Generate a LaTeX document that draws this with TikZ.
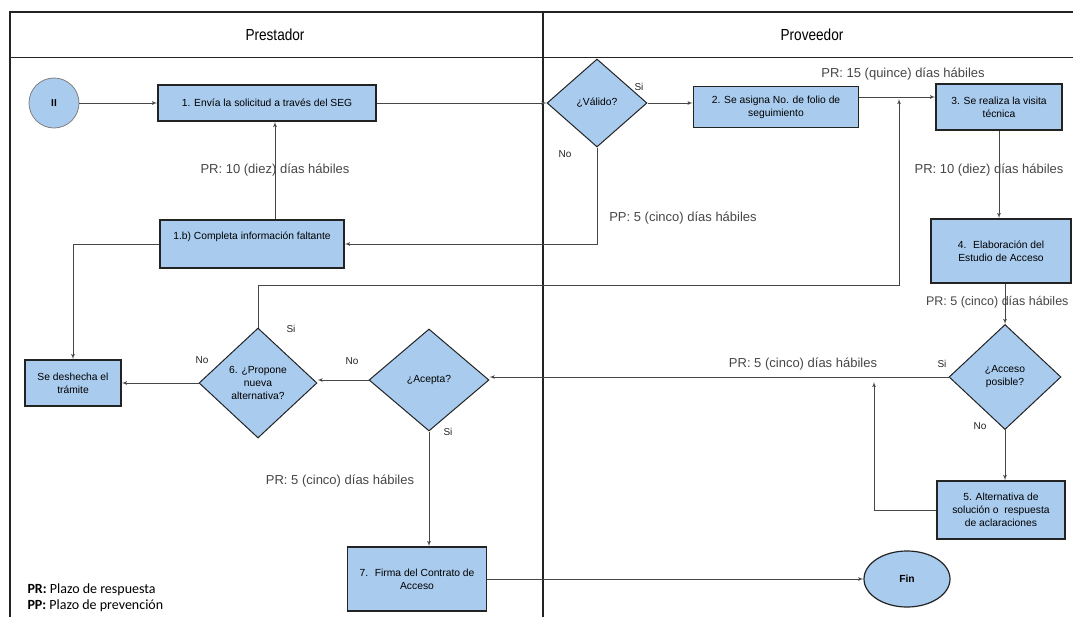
\documentclass[tikz,border=0pt]{standalone}
\usepackage{fontspec}
\setmainfont{Liberation Sans}
\newfontfamily\narrowfont[FakeStretch=0.85]{Liberation Sans}
\newfontfamily\legendfont{Carlito}
\usetikzlibrary{shapes,arrows,calc}
\definecolor{boxblue}{RGB}{169,203,238}
\definecolor{darkline}{RGB}{35,35,35}
\definecolor{linegray}{RGB}{70,70,70}
\tikzstyle{line} = [draw=linegray, line width=0.8pt, -latex']
\tikzstyle{block} = [draw=darkline, line width=1.6pt, fill=boxblue, rectangle, align=center, inner sep=2pt, font={\fontsize{10.3}{13}\selectfont}]
\tikzstyle{decision} = [draw=darkline, line width=1pt, fill=boxblue, diamond, align=center, inner sep=0pt, font={\fontsize{10.3}{13}\selectfont}]
\tikzstyle{cloud} = [draw=darkline, line width=1.2pt, fill=boxblue, ellipse, font={\bfseries\fontsize{10.3}{13}\selectfont}]
\tikzstyle{lbl} = [text=linegray, font={\fontsize{13}{15}\selectfont}]
\tikzstyle{tag} = [text=darkline, font={\fontsize{10}{12}\selectfont}]
\tikzstyle{head} = [font={\narrowfont\fontsize{16}{18}\selectfont}]

\begin{document}
\begin{tikzpicture}[x=1pt, y=-1pt]
    \useasboundingbox (0,0) rectangle (1073,616);
    \clip (0,0) rectangle (1073,616);
    % swimlanes
    \draw[darkline, line width=1.2pt] (10,12) rectangle (1100,640);
    \draw[darkline, line width=1pt] (10,57) -- (1100,57);
    \draw[darkline, line width=1.2pt] (543,12) -- (543,640);
    \node[head] (prestador) at (275,35) {Prestador};
    \node[head] (proveedor) at (812,35) {Proveedor};
    % nodes
    \node[circle, draw=gray, line width=0.8pt, fill=boxblue, minimum size=50pt, font=\bfseries] (start) at (54,103) {II};
    \node[block, minimum width=218pt, minimum height=36pt] (envia) at (267,103) {1. Envía la solicitud a través del SEG};
    \node[decision, minimum width=100pt, minimum height=88pt] (valido) at (597,103) {¿Válido?};
    \node[block, minimum width=165pt, minimum height=41pt] (folio) at (776,107) {2. Se asigna No. de folio de\\seguimiento};
    \node[block, minimum width=126pt, minimum height=46pt] (visita) at (999,107) {3. Se realiza la visita\\técnica};
    \node[block, minimum width=140pt, minimum height=64pt] (estudio) at (1001,251) {4.~ Elaboración del\\Estudio de Acceso};
    \node[decision, minimum width=112pt, minimum height=105pt] (acceso) at (1005,377) {¿Acceso\\posible?};
    \node[block, minimum width=128pt, minimum height=58pt] (alternativa) at (1001,510) {5. Alternativa de\\solución o~ respuesta\\de aclaraciones};
    \node[cloud, minimum width=86pt, minimum height=56pt] (fin) at (907,579) {Fin};
    \node[block, minimum width=139pt, minimum height=64pt] (firma) at (417,579) {7.~ Firma del Contrato de\\Acceso};
    \node[decision, minimum width=120pt, minimum height=102pt] (acepta) at (429,380) {¿Acepta?};
    \node[decision, minimum width=118pt, minimum height=110pt] (propone) at (258,383) {6. ¿Propone\\nueva\\alternativa?};
    \node[block, minimum width=96pt, minimum height=46pt] (deshecha) at (73,383) {Se deshecha el\\trámite};
    \node[block, minimum width=184pt, minimum height=48pt] (completa) at (252,244) {1.b) Completa información faltante\\[3pt]~};
    \coordinate (j23) at (859,97);
    \coordinate (j3) at (899,99);
    \coordinate (c6) at (899,285);
    \coordinate (j5) at (874,382);
    % connectors
    \path[line] (start) -- (envia);
    \path[line] (envia) -- (valido);
    \path[line] (valido.east) -- (valido.east -| folio.west);
    \path[line] (j23) -- (j23 -| visita.west);
    \path[line] (visita.south) -- (visita.south |- estudio.north);
    \path[line] (acceso.north |- estudio.south) -- (acceso.north);
    \path[line] (acceso.west) -- (acceso.west -| acepta.east);
    \path[line] (acceso.south) -- (acceso.south |- alternativa.north);
    \path[line] (alternativa.west) -| (j5);
    \path[line] (acepta.west) -- (acepta.west -| propone.east);
    \path[line] (propone.west) -- (deshecha.east);
    \path[line] (acepta.south) -- (acepta.south |- firma.north);
    \path[line] (firma) -- (fin);
    \path[line] (propone.north) |- (c6) -- (j3);
    \path[line] (valido.south) |- (completa.east);
    \path[line] ([xshift=23pt]completa.north) -- ([xshift=8pt]envia.south) node[lbl, midway] {PR: 10 (diez) días hábiles};
    \path[line] (completa.west) -| (deshecha.north);
    % plazos
    \node[lbl] (pr15) at (903,74) {PR: 15 (quince) días hábiles};
    \node[lbl] (pr10) at (989,170) {PR: 10 (diez) días hábiles};
    \node[lbl, anchor=east, font={\fontsize{12.5}{15}\selectfont}] (pr5a) at (1072,302) {PR: 5 (cinco) días hábiles};
    \node[lbl] (pr5b) at (803,364) {PR: 5 (cinco) días hábiles};
    \node[lbl] (pr5c) at (340,481) {PR: 5 (cinco) días hábiles};
    \node[lbl] (pp5) at (683,218) {PP: 5 (cinco) días hábiles};
    \node[tag] (si1) at (639,87) {Si};
    \node[tag] (no1) at (565,154) {No};
    \node[tag] (si2) at (942,364) {Si};
    \node[tag] (no2) at (980,426) {No};
    \node[tag] (si3) at (291,329) {Si};
    \node[tag] (no3) at (202,360) {No};
    \node[tag] (no4) at (352,361) {No};
    \node[tag] (si4) at (448,432) {Si};
    \node[anchor=west, align=left, font={\legendfont\fontsize{14}{16}\selectfont}] (leyenda) at (24,598) {\textbf{PR:} Plazo de respuesta\\\textbf{PP:} Plazo de prevención};
\end{tikzpicture}
\end{document}
